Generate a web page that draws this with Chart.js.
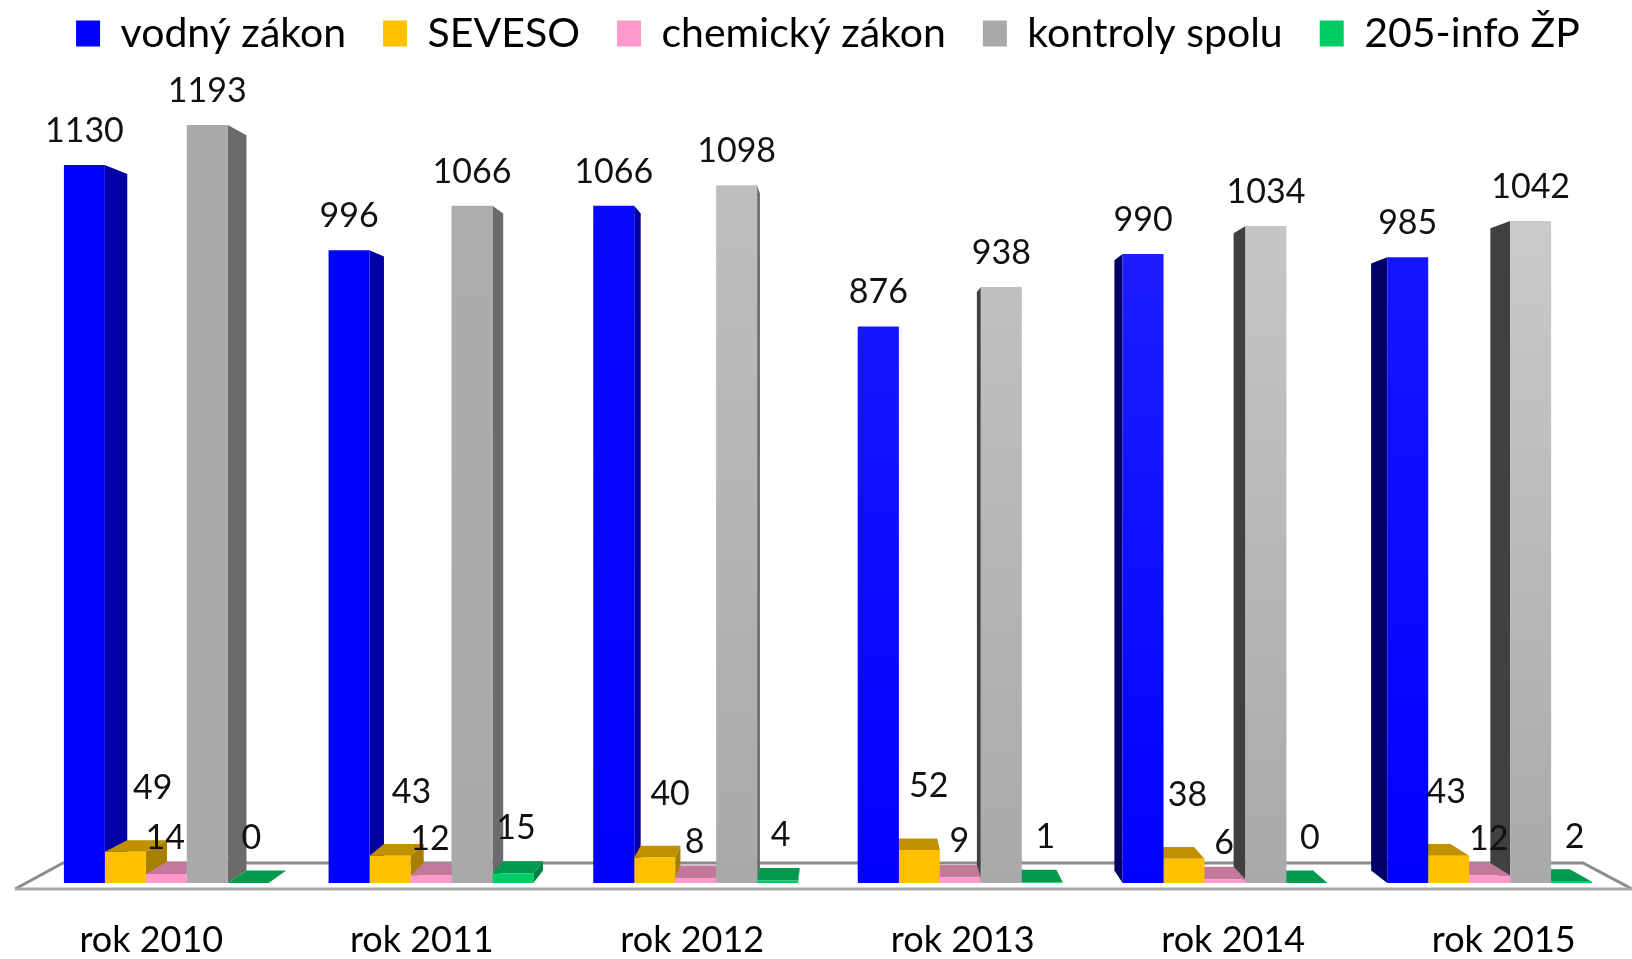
<!DOCTYPE html>
<html lang="sk">
<head>
<meta charset="utf-8">
<title>Kontroly 2010 - 2015</title>
<script src="https://cdn.jsdelivr.net/npm/chart.js@4.4.1/dist/chart.umd.min.js"></script>
<style>
    html, body { margin: 0; padding: 0; background: #fff; }
    #wrap { width: 1632px; height: 959px; }
</style>
</head>
<body>
<div id="wrap"><canvas id="chart" width="1632" height="959"></canvas></div>
<script>
// údaje z grafu
const years = ['rok 2010', 'rok 2011', 'rok 2012', 'rok 2013', 'rok 2014', 'rok 2015'];
const vodnyZakon = [1130, 996, 1066, 876, 990, 985];
const seveso = [49, 43, 40, 52, 38, 43];
const chemickyZakon = [14, 12, 8, 9, 6, 12];
const kontrolySpolu = [1193, 1066, 1098, 938, 1034, 1042];
const info205 = [0, 15, 4, 1, 0, 2];

// perspektíva (len vzhľad)
const PX_PER_UNIT = 0.6355;
const VX_RATIO = 0.514;
const HORIZON_VALUE = 658;
const DEPTH = 0.03;
const LABEL_SPREAD = 1.022;
const FONT = 'Lato';

// os s popismi rokov je v perspektíve trochu širšia ako stĺpce
const labelSpan = years.length / LABEL_SPREAD;
const firstLabel = VX_RATIO + (0.5 / years.length - VX_RATIO) * LABEL_SPREAD;
const labelMin = -firstLabel * labelSpan;
const labelMax = labelMin + labelSpan;

function shade(topColors, bottomColor) {
    return function(c) {
        const area = c.chart.chartArea;
        if (!area) return bottomColor;
        const i = c.dataIndex || 0;
        const g = c.chart.ctx.createLinearGradient(0, area.top, 0, area.bottom);
        g.addColorStop(0, topColors[i] || bottomColor);
        g.addColorStop(1, bottomColor);
        return g;
    };
}

// farby bočných a horných stien
const faceColors = [
    { right: '#0000a4', left: '#000066', top: '#0000c0' },
    { right: '#a88000', left: '#7a5d00', top: '#c09000' },
    { right: '#b06a8a', left: '#8a4f6a', top: '#c4789a' },
    { right: '#6b6b6b', left: '#404040', top: '#8a8a8a' },
    { right: '#008040', left: '#006030', top: '#009a4c' }
];

// posuny popiskov hodnôt (k = posun podľa perspektívy)
const labelOffsets = [
    { dx: 0, dy: -34, k: 0 },
    { dx: 11, dy: -64, k: 0.0226 },
    { dx: -1, dy: -36, k: 0 },
    { dx: 0, dy: -34, k: 0 },
    { dx: 3, dy: -45, k: 0 }
];

function vanishX(chart) {
    const a = chart.chartArea;
    return a.left + (a.right - a.left) * VX_RATIO;
}

const faces3d = {
    id: 'faces3d',
    beforeDatasetsDraw(chart) {
        const { ctx, chartArea: a, scales: { y } } = chart;
        const vx = vanishX(chart);
        const vy = y.getPixelForValue(HORIZON_VALUE);
        const base = y.getPixelForValue(0);
        const proj = (px, py, t) => [px + (vx - px) * t, py + (vy - py) * t];

        // podlaha
        const backY = base + (vy - base) * 0.048;
        const frontY = base + 6;
        const fl = a.left - 19, fr = Math.min(a.right + 10, chart.width);
        ctx.save();
        ctx.beginPath();
        ctx.moveTo(a.left + 29, backY);
        ctx.lineTo(a.right - 39, backY);
        ctx.lineTo(fr, frontY);
        ctx.lineTo(fl, frontY);
        ctx.closePath();
        ctx.fillStyle = '#ffffff';
        ctx.fill();
        ctx.lineWidth = 3;
        ctx.strokeStyle = '#8c8c8c';
        ctx.beginPath();
        ctx.moveTo(fl, frontY);
        ctx.lineTo(a.left + 29, backY);
        ctx.lineTo(a.right - 39, backY);
        ctx.lineTo(fr, frontY);
        ctx.stroke();
        ctx.strokeStyle = '#a8a8a8';
        ctx.beginPath();
        ctx.moveTo(fl, frontY);
        ctx.lineTo(fr, frontY);
        ctx.stroke();

        // bočné a horné steny stĺpcov
        const items = [];
        chart.data.datasets.forEach((ds, di) => {
            chart.getDatasetMeta(di).data.forEach(bar => items.push({ bar, di }));
        });
        items.sort((p, q) => Math.abs(q.bar.x - vx) - Math.abs(p.bar.x - vx));

        const poly = (pts, color) => {
            ctx.beginPath();
            ctx.moveTo(pts[0][0], pts[0][1]);
            for (let k = 1; k < pts.length; k++) ctx.lineTo(pts[k][0], pts[k][1]);
            ctx.closePath();
            ctx.fillStyle = color;
            ctx.fill();
        };

        items.forEach(({ bar, di }) => {
            const col = faceColors[di];
            const left = bar.x - bar.width / 2;
            const right = bar.x + bar.width / 2;
            const top = bar.y;
            const bottom = bar.base;
            if (right <= vx) {
                poly([[right, top], [right, bottom], proj(right, bottom, DEPTH), proj(right, top, DEPTH)], col.right);
            } else if (left >= vx) {
                poly([[left, top], [left, bottom], proj(left, bottom, DEPTH), proj(left, top, DEPTH)], col.left);
            }
            if (top > vy) {
                poly([[left, top], [right, top], proj(right, top, DEPTH), proj(left, top, DEPTH)], col.top);
            }
        });
        ctx.restore();
    }
};

const valueLabels = {
    id: 'valueLabels',
    afterDatasetsDraw(chart) {
        const ctx = chart.ctx;
        const vx = vanishX(chart);
        ctx.save();
        ctx.font = '34px ' + FONT;
        ctx.fillStyle = '#111';
        ctx.textAlign = 'center';
        ctx.textBaseline = 'middle';
        chart.data.datasets.forEach((ds, di) => {
            const off = labelOffsets[di];
            chart.getDatasetMeta(di).data.forEach((bar, i) => {
                const shift = off.dx + (vx - bar.x) * off.k;
                ctx.fillText(String(ds.data[i]), bar.x + shift, bar.y + off.dy);
            });
        });
        ctx.restore();
    }
};

const chart = new Chart(document.getElementById('chart'), {
    type: 'bar',
    data: {
        labels: years,
        datasets: [
            { label: 'vodný zákon', data: vodnyZakon,
              backgroundColor: shade(['#0000ff', '#0000ff', '#0a0aff', '#2020ff', '#2626ff', '#1c1cff'], '#0000ff') },
            { label: 'SEVESO', data: seveso, backgroundColor: '#ffc000' },
            { label: 'chemický zákon', data: chemickyZakon, backgroundColor: '#ff99cc' },
            { label: 'kontroly spolu', data: kontrolySpolu,
              backgroundColor: shade(['#a9a9a9', '#adadad', '#c2c2c2', '#c9c9c9', '#cdcdcd', '#d2d2d2'], '#a9a9a9') },
            { label: '205-info ŽP', data: info205, backgroundColor: '#00cc66' }
        ]
    },
    options: {
        responsive: false,
        animation: false,
        devicePixelRatio: 1,
        layout: { padding: { left: 34, right: 10, top: -24, bottom: -38 } },
        datasets: {
            bar: { borderWidth: 0, categoryPercentage: 0.774, barPercentage: 1.0, clip: false }
        },
        scales: {
            x: { display: false },
            years: {
                type: 'linear',
                position: 'bottom',
                offset: false,
                bounds: 'data',
                min: labelMin,
                max: labelMax,
                afterBuildTicks: axis => {
                    axis.ticks = years.map((_, i) => ({ value: i }));
                },
                grid: { display: false, drawTicks: false, offset: false },
                border: { display: false },
                ticks: {
                    color: '#000',
                    padding: 39,
                    maxRotation: 0,
                    autoSkip: false,
                    callback: v => years[v],
                    font: { family: FONT, size: 36, lineHeight: 1 }
                }
            },
            y: { display: false, min: 0, max: 1300 }
        },
        plugins: {
            legend: {
                position: 'top',
                labels: {
                    color: '#000',
                    boxWidth: 24,
                    boxHeight: 26,
                    padding: 37,
                    font: { family: FONT, size: 41 }
                }
            },
            tooltip: { enabled: false }
        }
    },
    plugins: [faces3d, valueLabels]
});

// mierka osi y podľa výšky oblasti grafu
const area = chart.chartArea;
chart.options.scales.y.max = Math.round((area.bottom - area.top) / PX_PER_UNIT);
chart.update('none');
</script>
</body>
</html>
